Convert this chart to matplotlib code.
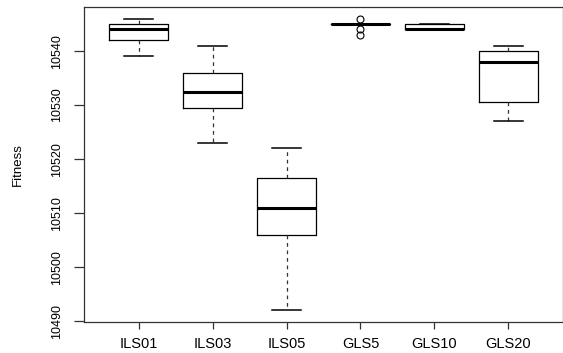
import matplotlib
matplotlib.use("Agg")
import matplotlib.pyplot as plt

# box statistics
labels = ["ILS01", "ILS03", "ILS05", "GLS5", "GLS10", "GLS20"]
whis_lo = [10539, 10523, 10492, 10545, 10544, 10527]
q1 = [10542, 10529.5, 10506, 10545, 10544, 10530.5]
med = [10544, 10532.5, 10511, 10545, 10544, 10538]
q3 = [10545, 10536, 10516.5, 10545, 10545, 10540]
whis_hi = [10546, 10541, 10522, 10545, 10545, 10541]
outliers = [[], [], [], [10546, 10544, 10543], [], []]

plt.rcParams['font.family'] = ['Liberation Sans', 'DejaVu Sans']

stats = []
for i in range(len(labels)):
    stats.append(dict(label=labels[i], whislo=whis_lo[i], q1=q1[i], med=med[i],
                      q3=q3[i], whishi=whis_hi[i], fliers=outliers[i]))

fig = plt.figure(figsize=(5.63, 3.53), dpi=100)
ax = fig.add_axes([84 / 563, 1 - 322 / 353, 1 - 84 / 563, 315 / 353])

ax.bxp(stats, positions=range(1, 7), widths=0.8,
       boxprops=dict(color='black', linewidth=0.9),
       medianprops=dict(color='black', linewidth=2.2, solid_capstyle='butt'),
       whiskerprops=dict(color='#333333', linewidth=0.9, linestyle=(0, (3, 3))),
       capprops=dict(color='black', linewidth=1.1),
       flierprops=dict(marker='o', markerfacecolor='none', markeredgecolor='black',
                       markersize=5, markeredgewidth=0.8))

ax.set_xlim(0.26, 6.74)
ax.set_ylim(10489.84, 10548.16)
ax.set_yticks([10490, 10500, 10510, 10520, 10530, 10540])
ax.set_xticks(range(1, 7))
ax.set_xticklabels(labels, fontsize=10.5)
for t in ax.get_yticklabels():
    t.set_rotation(90)
    t.set_va('center')
    t.set_fontsize(9)
ax.tick_params(axis='both', width=0.9, color='#333333')
ax.tick_params(axis='y', length=7, pad=8)
ax.tick_params(axis='x', length=5, pad=6)
ax.set_ylabel("Fitness", fontsize=9.5, labelpad=20)
for sp in ax.spines.values():
    sp.set_linewidth(0.9)
    sp.set_color('#333333')

fig.savefig("out.png", dpi=100)
